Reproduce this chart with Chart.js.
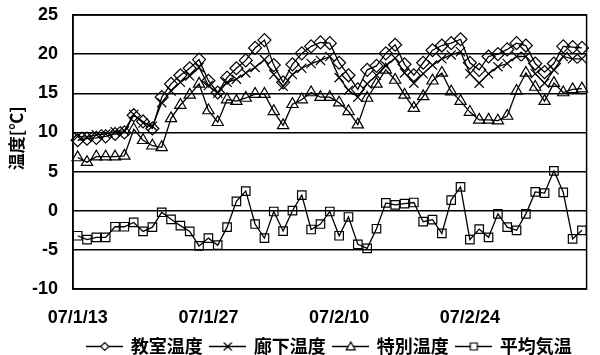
<!DOCTYPE html>
<html lang="ja">
<head>
<meta charset="utf-8">
<title>温度推移</title>
<script src="https://cdn.jsdelivr.net/npm/chart.js@4.4.1/dist/chart.umd.min.js"></script>
<style>
    html, body { margin: 0; padding: 0; background: #fff; }
    #wrap { width: 600px; height: 355px; }
</style>
</head>
<body>
<div id="wrap"><canvas id="temp-chart"></canvas></div>
<script>
// ========== 温度グラフ ==========

// ---- データ ----
const seriesNames = ['教室温度', '廊下温度', '特別温度', '平均気温'];
const tickDates = ['07/1/13', '07/1/27', '07/2/10', '07/2/24'];
const yTitle = '温度[℃]';

const classroom = [
    9.0, 9.2, 9.3, 9.5, 9.8, 10.0, 12.2, 11.4, 10.5, 14.5,
    16.2, 17.3, 18.2, 19.3, 16.6, 15.1, 17.0, 18.2, 19.2, 20.8,
    21.8, 18.6, 16.4, 18.7, 20.1, 21.0, 21.5, 21.4, 18.9, 17.3,
    15.5, 18.0, 18.5, 20.1, 21.2, 18.7, 17.3, 18.9, 20.5, 21.1,
    21.4, 21.9, 18.9, 18.0, 19.7, 20.0, 20.6, 21.4, 21.1, 18.8,
    17.7, 18.8, 21.0, 20.9, 20.8,
];
const corridor = [
    9.5, 9.4, 9.7, 9.8, 10.1, 10.2, 12.3, 11.2, 10.8, 13.8,
    15.3, 16.4, 17.2, 18.3, 16.0, 15.0, 16.4, 16.8, 17.6, 18.3,
    19.3, 17.4, 15.9, 17.4, 18.2, 18.8, 19.2, 19.7, 17.0, 15.4,
    14.5, 16.2, 17.3, 18.5, 19.5, 17.6, 16.3, 17.5, 18.6, 19.4,
    19.9, 20.3, 17.5, 16.3, 17.5, 18.4, 18.8, 19.7, 19.7, 17.5,
    16.3, 18.0, 19.7, 19.4, 19.4,
];
const special = [
    6.8, 6.2, 6.9, 6.9, 6.9, 7.0, 10.4, 9.0, 8.3, 8.1,
    11.8, 13.5, 14.8, 16.2, 12.8, 11.3, 14.2, 14.0, 14.4, 14.9,
    14.9, 12.7, 10.9, 13.6, 14.2, 15.1, 14.5, 14.5, 13.8, 12.7,
    11.0, 14.4, 16.2, 18.0, 16.7, 14.8, 13.1, 14.6, 16.6, 17.6,
    15.2, 14.0, 12.6, 11.6, 11.6, 11.5, 12.1, 15.3, 17.6, 15.8,
    14.0, 16.3, 15.1, 15.5, 15.6,
];
const outdoorMean = [
    -3.2, -3.7, -3.4, -3.4, -2.05, -2.05, -1.5, -2.65, -2.1, -0.2,
    -1.1, -1.9, -2.65, -4.5, -3.5, -4.4, -2.1, 1.2, 2.5, -1.7,
    -3.5, -0.1, -2.6, 0.0, 2.0, -2.4, -1.7, -0.1, -3.2, -0.8,
    -4.3, -4.8, -2.3, 1.0, 0.75, 0.9, 1.05, -1.4, -1.15, -2.9,
    1.35, 3.05, -3.7, -2.35, -3.4, -0.4, -2.1, -2.5, -0.4, 2.4,
    2.25, 5.1, 2.35, -3.6, -2.5,
];

// 日付カテゴリ (07/1/13 から毎日)
const dayLabels = classroom.map((_, i) => {
    const d = new Date(2007, 0, 13 + i);
    return `07/${d.getMonth() + 1}/${d.getDate()}`;
});

const markerStyles = ['rectRot', 'crossRot', 'triangle', 'rect'];
const markerRadius = [6.5, 6.5, 6.5, 6];

// ---- 凡例アイコン (線＋マーカー) ----
function makeLegendIcon(style) {
    const c = document.createElement('canvas');
    c.width = 37;
    c.height = 14;
    const ctx = c.getContext('2d');
    const cx = 18.5, cy = 7.5;
    ctx.strokeStyle = '#000';
    ctx.lineWidth = 1.5;
    ctx.beginPath();
    ctx.moveTo(0, cy);
    ctx.lineTo(37, cy);
    ctx.stroke();

    ctx.fillStyle = '#fff';
    ctx.lineWidth = 1.2;
    ctx.beginPath();
    if (style === 'rectRot') {
        const r = 4;
        ctx.moveTo(cx - r, cy); ctx.lineTo(cx, cy - r); ctx.lineTo(cx + r, cy); ctx.lineTo(cx, cy + r);
        ctx.closePath(); ctx.fill(); ctx.stroke();
    } else if (style === 'crossRot') {
        const r = 4;
        ctx.moveTo(cx - r, cy - r); ctx.lineTo(cx + r, cy + r);
        ctx.moveTo(cx - r, cy + r); ctx.lineTo(cx + r, cy - r);
        ctx.stroke();
    } else if (style === 'triangle') {
        const r = 4.5;
        ctx.moveTo(cx, cy - r); ctx.lineTo(cx + r, cy + r * 0.75); ctx.lineTo(cx - r, cy + r * 0.75);
        ctx.closePath(); ctx.fill(); ctx.stroke();
    } else {
        const r = 3.5;
        ctx.rect(cx - r, cy - r, r * 2, r * 2);
        ctx.fill(); ctx.stroke();
    }
    return c;
}
const legendIcons = markerStyles.map(makeLegendIcon);

// ---- 枠線と縦軸タイトル ----
const plotFrame = {
    id: 'plotFrame',
    beforeDatasetsDraw(chart) {
        const { ctx, chartArea: a } = chart;
        ctx.save();
        ctx.strokeStyle = '#000';
        ctx.lineWidth = 1.5;
        ctx.strokeRect(a.left, a.top, a.right - a.left, a.bottom - a.top);
        ctx.restore();
    },
    afterDraw(chart) {
        const { ctx, chartArea: a } = chart;
        ctx.save();
        ctx.translate(17, a.top + (a.bottom - a.top) * 0.45);
        ctx.rotate(-Math.PI / 2);
        ctx.font = "bold 17px 'Noto Sans CJK JP', sans-serif";
        ctx.fillStyle = '#000';
        ctx.textAlign = 'center';
        ctx.textBaseline = 'middle';
        ctx.fillText(yTitle, 0, 0);
        ctx.restore();
    },
};

// ---- 描画 ----
const seriesData = [classroom, corridor, special, outdoorMean];

const tickFont = { family: "'Liberation Sans', Arial, sans-serif", size: 18, weight: 'bold' };

new Chart(document.getElementById('temp-chart'), {
    type: 'line',
    data: {
        labels: dayLabels,
        datasets: seriesData.map((data, i) => ({
            label: seriesNames[i],
            data,
            borderColor: '#000',
            borderWidth: 1.3,
            backgroundColor: 'transparent',
            pointStyle: markerStyles[i],
            pointRadius: markerRadius[i],
            pointBorderColor: '#000',
            pointBackgroundColor: 'transparent',
            pointBorderWidth: 1.2,
            tension: 0,
        })),
    },
    options: {
        responsive: true,
        maintainAspectRatio: false,
        animation: false,
        layout: { padding: { top: 15, right: 3, bottom: -10, left: 0 } },
        plugins: {
            tooltip: { enabled: false },
            legend: {
                position: 'bottom',
                fullSize: false,
                labels: {
                    usePointStyle: true,
                    pointStyleWidth: 34,
                    padding: 8,
                    color: '#000',
                    font: { family: "'Noto Sans CJK JP', sans-serif", size: 18, weight: 'bold' },
                    generateLabels: chart => chart.data.datasets.map((ds, i) => ({
                        text: ds.label,
                        pointStyle: legendIcons[i],
                        fillStyle: 'transparent',
                        strokeStyle: 'transparent',
                        lineWidth: 0,
                        fontColor: '#000',
                        hidden: false,
                        datasetIndex: i,
                    })),
                },
            },
        },
        scales: {
            x: {
                offset: true,
                grid: { display: false, drawTicks: false },
                border: { display: true, color: '#000', width: 1.5 },
                ticks: {
                    autoSkip: false,
                    maxRotation: 0,
                    padding: 18,
                    color: '#000',
                    font: tickFont,
                    callback: (value, index) => tickDates.includes(dayLabels[index]) ? dayLabels[index] : '',
                },
                afterFit: scale => { scale.height = 40; },
            },
            y: {
                min: -10,
                max: 25,
                grid: { color: '#000', lineWidth: 1.5, drawTicks: false },
                border: { display: true, color: '#000', width: 1.5 },
                ticks: {
                    stepSize: 5,
                    padding: 15,
                    color: '#000',
                    font: tickFont,
                },
                afterFit: scale => {
                    scale.width = 73;
                    scale.paddingTop = 0;
                    scale.paddingBottom = 0;
                },
            },
        },
    },
    plugins: [plotFrame],
});
</script>
</body>
</html>
